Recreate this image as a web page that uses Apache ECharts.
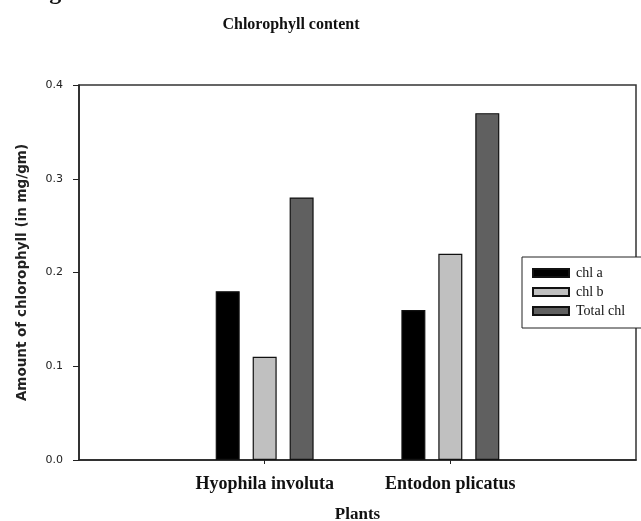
<!DOCTYPE html>
<html>
<head>
<meta charset="utf-8">
<script src="https://cdn.jsdelivr.net/npm/echarts@6/dist/echarts.min.js"></script>
<style>html,body{margin:0;padding:0;background:#fff}#c{width:641px;height:521px}</style>
</head>
<body>
<div id="c"></div>
<script>
var categories = ['Hyophila involuta', 'Entodon plicatus'];
var chlA = [0.18, 0.16];
var chlB = [0.11, 0.22];
var totalChl = [0.28, 0.37];
var seriesNames = ['chl a', 'chl b', 'Total chl'];
var yTicks = [0.0, 0.1, 0.2, 0.3, 0.4];

// pad categories with empty slots so groups sit at 1/3 and 2/3 of the axis
var axisCats = [''].concat(categories).concat(['']);
function pad(arr) { return ['-'].concat(arr).concat(['-']); }

var chart = echarts.init(document.getElementById('c'), null, {renderer: 'canvas'});
var serif = '"Liberation Serif", "Times New Roman", serif';
var sans = '"DejaVu Sans", Arial, sans-serif';
var colors = ['#000000', '#c0c0c0', '#606060'];
var datas = [chlA, chlB, totalChl];

chart.setOption({
  animation: false,
  backgroundColor: '#fff',
  graphic: [{
    type: 'text', x: 28, y: -19,
    style: {text: 'Figure 1', font: 'bold 24px ' + serif, fill: '#111'}
  }, {
    type: 'text', x: 291, y: 25,
    style: {text: 'Chlorophyll content', font: 'bold 16px ' + serif, fill: '#111', align: 'center', verticalAlign: 'middle'}
  }],
  grid: {left: 79, right: 5, top: 85, bottom: 61, show: true, borderColor: '#333', borderWidth: 1.5,
    backgroundColor: 'transparent', outerBoundsMode: 'none', containLabel: false},
  legend: {
    orient: 'vertical', left: 522, top: 257,
    data: seriesNames,
    icon: 'rect', itemWidth: 36, itemHeight: 8, itemGap: 5,
    padding: [9, 30, 10, 10],
    backgroundColor: '#fff', borderColor: '#222', borderWidth: 1,
    textStyle: {fontFamily: serif, fontSize: 14, color: '#111', padding: [0, 0, 0, 2]}
  },
  xAxis: {
    type: 'category', data: axisCats, boundaryGap: false,
    name: 'Plants', nameLocation: 'middle', nameGap: 46,
    nameTextStyle: {fontFamily: serif, fontWeight: 'bold', fontSize: 17, color: '#111'},
    axisLine: {lineStyle: {color: '#222', width: 1.5}},
    axisTick: {length: 4, lineStyle: {color: '#222'}, interval: function (i) { return i === 1 || i === 2; }},
    axisLabel: {interval: 0, margin: 15, fontFamily: serif, fontWeight: 'bold', fontSize: 18, color: '#111'},
    splitLine: {show: false}
  },
  yAxis: {
    type: 'value', min: 0, max: 0.4, interval: 0.1,
    name: 'Amount of chlorophyll (in mg/gm)', nameLocation: 'middle', nameGap: 50, nameRotate: 90,
    nameTextStyle: {fontFamily: sans, fontWeight: 'bold', fontSize: 13.5, color: '#222'},
    axisLine: {show: true, lineStyle: {color: '#222', width: 1.5}},
    axisTick: {show: true, length: 6, lineStyle: {color: '#222'}},
    axisLabel: {margin: 16, fontFamily: sans, fontSize: 11, color: '#222',
      formatter: function (v) { return v.toFixed(1); }},
    splitLine: {show: false}
  },
  series: seriesNames.map(function (n, i) {
    return {
      name: n, type: 'bar', data: pad(datas[i]),
      barWidth: 24, barGap: '54%',
      itemStyle: {color: colors[i], borderColor: '#111', borderWidth: 1.2}
    };
  })
});
</script>
</body>
</html>
